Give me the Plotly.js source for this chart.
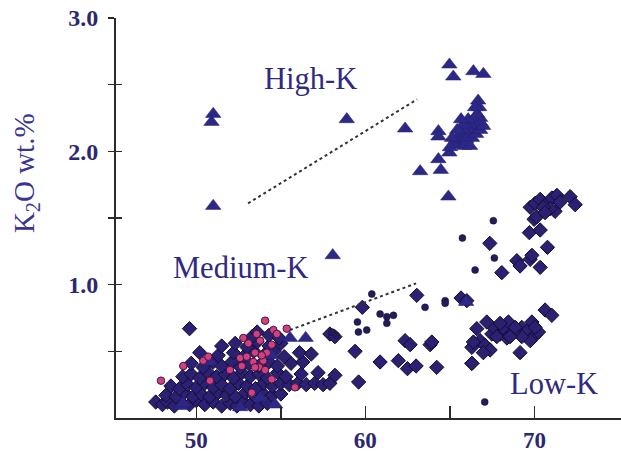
<!DOCTYPE html>
<html>
<head>
<meta charset="utf-8">
<script src="https://cdn.plot.ly/plotly-3.0.1.min.js"></script>
<style>
  html, body { margin: 0; padding: 0; background: #ffffff; }
  #chart { width: 621px; height: 455px; }
</style>
</head>
<body>
<div id="chart"></div>
<script>
// SiO2 (wt.%) vs K2O (wt.%) for the sample suites

// Diamond-symbol samples
const diamondSiO2 = [
  47.6, 48.0, 48.3, 48.7, 49.1, 49.6, 50.0, 50.5, 51.0, 51.5, 52.0, 52.4, 52.8, 53.2, 53.7, 54.2,
  48.2, 48.8, 49.3, 49.8, 50.3, 50.8, 51.3, 51.8, 52.3, 52.9, 53.4, 53.9, 54.5, 55.0,
  48.5, 49.0, 49.5, 50.0, 50.5, 51.0, 51.5, 52.0, 52.5, 53.0, 53.5, 54.0, 54.5, 55.0, 55.5, 56.0, 56.5, 57.0, 57.5, 57.9,
  49.2, 49.7, 50.2, 50.7, 51.2, 51.7, 52.2, 52.7, 53.2, 53.7, 54.2, 54.8, 55.3, 56.2, 57.2, 58.2,
  49.7, 50.4, 51.0, 51.5, 52.1, 52.6, 53.1, 53.7, 54.3, 54.8, 55.6, 56.3,
  50.2, 51.3, 52.2, 52.8, 53.4, 54.0, 54.6, 55.2, 56.1, 56.8,
  51.5, 52.3, 53.0, 53.6, 54.3, 55.0,
  53.3, 53.6, 54.3, 54.9, 57.9, 58.2,
  49.6, 59.6,
  63.04, 59.82, 59.39, 60.87, 61.95, 62.35, 62.65, 62.49, 63.0, 63.83, 63.93, 64.22, 66.3, 65.66, 66.0,
  67.36, 68.07, 68.96, 69.15, 69.75, 69.85, 70.34, 70.77, 69.7, 70.34, 69.98, 69.75, 70.04, 70.34,
  70.73, 71.03, 71.33, 71.22, 70.93, 72.11, 72.41, 70.53, 70.14, 71.52, 70.63,
  67.18, 66.59, 66.3, 66.79, 67.08, 67.48, 67.67, 67.97, 68.27, 68.46, 68.37, 67.38, 66.98,
  69.05, 69.25, 69.45, 69.64, 69.85, 70.04, 70.24, 69.75, 69.25, 70.63, 71.03, 69.15, 66.3,
  68.76, 67.77, 68.56, 67.97, 68.86, 66.39, 70.04
];
const diamondK2O = [
  0.12, 0.10, 0.12, 0.09, 0.12, 0.10, 0.13, 0.10, 0.12, 0.09, 0.11, 0.09, 0.12, 0.10, 0.09, 0.11,
  0.17, 0.16, 0.19, 0.16, 0.18, 0.16, 0.19, 0.17, 0.16, 0.19, 0.17, 0.19, 0.17, 0.18,
  0.24, 0.22, 0.25, 0.23, 0.26, 0.23, 0.25, 0.22, 0.26, 0.24, 0.22, 0.26, 0.24, 0.26, 0.25, 0.26, 0.25, 0.26, 0.25, 0.26,
  0.31, 0.33, 0.30, 0.34, 0.31, 0.33, 0.30, 0.34, 0.31, 0.33, 0.30, 0.34, 0.31, 0.33, 0.34, 0.32,
  0.41, 0.38, 0.42, 0.39, 0.42, 0.38, 0.41, 0.39, 0.42, 0.39, 0.41, 0.42,
  0.49, 0.47, 0.49, 0.46, 0.50, 0.47, 0.50, 0.46, 0.49, 0.48,
  0.54, 0.56, 0.53, 0.57, 0.54, 0.56,
  0.61, 0.645, 0.62, 0.60, 0.63, 0.61,
  0.67, 0.27,
  0.92, 0.83, 0.50, 0.42, 0.43, 0.58, 0.55, 0.37, 0.39, 0.55, 0.57, 0.38, 0.41, 0.90, 0.88,
  1.31, 1.09, 1.18, 1.14, 1.19, 1.22, 1.13, 1.28, 1.39, 1.41, 1.49, 1.58, 1.61, 1.64,
  1.61, 1.65, 1.67, 1.55, 1.57, 1.66, 1.60, 1.58, 1.51, 1.62, 1.54,
  0.72, 0.67, 0.53, 0.58, 0.545, 0.63, 0.67, 0.63, 0.66, 0.72, 0.60, 0.51, 0.49,
  0.645, 0.68, 0.63, 0.66, 0.72, 0.62, 0.645, 0.58, 0.61, 0.81, 0.77, 0.49, 0.41,
  0.645, 0.61, 0.61, 0.71, 0.68, 0.57, 0.68
];

// Triangle-symbol samples
const triangleSiO2 = [
  51.0, 50.9, 51.0, 58.9, 62.35, 58.07,
  64.97, 65.2, 66.39, 66.98,
  64.32, 64.32, 63.24, 64.32, 64.46, 64.91, 64.97,
  66.67, 66.73, 66.61, 66.79, 66.42, 66.85, 66.55, 66.25, 66.02, 66.19, 65.9, 65.72, 65.54, 65.37, 65.6,
  65.25, 65.96, 66.31, 66.55, 66.79, 66.96, 66.08, 65.78, 65.43, 65.13, 65.01, 65.84, 66.19, 65.66, 66.49,
  65.96, 55.54, 56.47, 54.66, 49.1, 54.46, 52.6, 53.77, 49.2, 50.8
];
const triangleK2O = [
  2.28, 2.22, 1.59, 2.24, 2.17, 1.22,
  2.65, 2.56, 2.60, 2.58,
  2.15, 2.11, 1.85, 1.94, 1.86, 1.66, 1.99,
  2.38, 2.33, 2.28, 2.25, 2.24, 2.21, 2.19, 2.19, 2.18, 2.15, 2.14, 2.12, 2.10, 2.09, 2.07,
  2.05, 2.09, 2.10, 2.13, 2.16, 2.19, 2.24, 2.20, 2.16, 2.10, 2.03, 2.04, 2.04, 2.24, 2.33,
  0.87, 0.60, 0.60, 0.10, 0.09, 0.47, 0.08, 0.15, 0.11, 0.42
];

// Small dark-dot samples
const dotSiO2 = [67.57, 65.74, 67.63, 66.49, 60.38, 63.53, 64.72, 64.72, 59.53, 60.08, 59.59,
                 60.87, 61.66, 61.27, 61.27, 67.06, 58.01, 58.27];
const dotK2O  = [1.48, 1.35, 1.20, 1.11, 0.93, 0.83, 0.88, 0.86, 0.72, 0.66, 0.645,
                 0.78, 0.77, 0.76, 0.71, 0.12, 0.645, 0.62];

// Pink-circle samples
const pinkSiO2 = [47.91, 49.23, 50.41, 50.71, 50.81, 51.99, 52.59, 52.69, 52.78, 53.08, 53.47, 53.57,
                  53.77, 54.07, 53.96, 53.73, 54.07, 54.17, 54.46, 54.56, 54.76, 54.46, 55.35, 55.84,
                  53.28, 52.98, 53.87, 53.37, 53.47];
const pinkK2O  = [0.28, 0.39, 0.43, 0.46, 0.28, 0.36, 0.45, 0.39, 0.60, 0.56, 0.49, 0.63,
                  0.58, 0.73, 0.43, 0.38, 0.36, 0.49, 0.55, 0.66, 0.63, 0.29, 0.67, 0.23,
                  0.19, 0.46, 0.47, 0.42, 0.38];

// Series boundaries (dotted)
const highMedSiO2 = [53.06, 63.06];
const highMedK2O  = [1.61, 2.39];
const medLowSiO2  = [55.54, 63.0];
const medLowK2O   = [0.66, 1.01];

// Axis ticks: labelled major ticks plus unlabelled minor ticks
const xTickVals  = [50, 60, 70];
const xMinorVals = [55, 65];
const yTickVals  = [1.0, 2.0, 3.0];
const yMinorVals = [0.5, 1.5, 2.5];
const yAllTicks  = [0.5, 1.0, 1.5, 2.0, 2.5, 3.0];

// Field labels
const fieldNames = ['High-K', 'Medium-K', 'Low-K'];
const fieldSiO2  = [56.73, 52.64, 71.17];
const fieldK2O   = [2.54, 1.124, 0.252];

const ink = '#2f2a80';
const serif = 'Liberation Serif, Times New Roman, serif';
const axisInk = '#2a2a2a';

const traces = [
  {
    x: diamondSiO2, y: diamondK2O, type: 'scatter', mode: 'markers',
    marker: { symbol: 'diamond', size: 11, color: '#2b2072', line: { color: '#120c30', width: 1 } },
    hoverinfo: 'x+y'
  },
  {
    x: triangleSiO2, y: triangleK2O, type: 'scatter', mode: 'markers',
    marker: { symbol: 'triangle-up', size: 13.5, color: '#2d2886', line: { color: '#231f70', width: 0.5 } },
    hoverinfo: 'x+y'
  },
  {
    x: pinkSiO2, y: pinkK2O, type: 'scatter', mode: 'markers',
    marker: { symbol: 'circle', size: 7.5, color: '#d2407f', line: { color: '#3a1744', width: 1 } },
    hoverinfo: 'x+y'
  },
  {
    x: dotSiO2, y: dotK2O, type: 'scatter', mode: 'markers',
    marker: { symbol: 'circle', size: 7, color: '#221c58', line: { color: '#15113a', width: 0.5 } },
    hoverinfo: 'x+y'
  },
  {
    x: highMedSiO2, y: highMedK2O, type: 'scatter', mode: 'lines', yaxis: 'y2',
    line: { color: '#333333', width: 2, dash: 'dot' }, hoverinfo: 'skip'
  },
  {
    x: medLowSiO2, y: medLowK2O, type: 'scatter', mode: 'lines', yaxis: 'y2',
    line: { color: '#333333', width: 2, dash: 'dot' }, hoverinfo: 'skip'
  }
];

const annotations = fieldNames.map((name, i) => ({
  x: fieldSiO2[i], y: fieldK2O[i], xref: 'x', yref: 'y',
  text: name, showarrow: false,
  font: { family: serif, size: 30.5, color: ink },
  xanchor: 'center', yanchor: 'middle'
}));

// Y-axis title
annotations.push({
  xref: 'paper', yref: 'paper', x: -0.178, y: 0.6125,
  text: 'K<sub>2</sub>O wt.%', showarrow: false, textangle: -90,
  font: { family: serif, size: 29, color: '#3a3592' },
  xanchor: 'center', yanchor: 'middle'
});

const layout = {
  width: 621, height: 455,
  margin: { l: 116, r: 0, t: 18, b: 37 },
  paper_bgcolor: '#ffffff', plot_bgcolor: '#ffffff',
  showlegend: false,
  xaxis: {
    range: [45.25, 75.12], showgrid: false, zeroline: false,
    showline: true, linecolor: axisInk, linewidth: 2,
    ticks: 'inside', ticklen: 12, tickwidth: 1.5, tickcolor: axisInk,
    tickmode: 'array', tickvals: xTickVals, ticktext: xTickVals.map(String),
    minor: { tickmode: 'array', tickvals: xMinorVals, ticks: 'inside', ticklen: 12, tickwidth: 1.5, tickcolor: axisInk, showgrid: false },
    ticklabelstandoff: 0,
    tickfont: { family: serif, size: 23, color: '#2c2772', weight: 'bold' }
  },
  yaxis: {
    range: [0, 3.0], showgrid: false, zeroline: false,
    showline: true, linecolor: axisInk, linewidth: 2,
    ticks: 'outside', ticklen: 6, tickwidth: 1.5, tickcolor: axisInk,
    tickmode: 'array', tickvals: yTickVals, ticktext: yTickVals.map(v => v.toFixed(1)),
    minor: { tickmode: 'array', tickvals: yMinorVals, ticks: 'outside', ticklen: 6, tickwidth: 1.5, tickcolor: axisInk, showgrid: false },
    ticklabelstandoff: 5,
    tickfont: { family: serif, size: 24, color: '#2c2772', weight: 'bold' }
  },
  yaxis2: {
    range: [0, 3.0], overlaying: 'y', side: 'left', anchor: 'x',
    showgrid: false, zeroline: false, showline: false,
    ticks: 'inside', ticklen: 6, tickwidth: 1.5, tickcolor: axisInk,
    tickmode: 'array', tickvals: yAllTicks, showticklabels: false
  },
  annotations: annotations
};

Plotly.newPlot('chart', traces, layout, { displayModeBar: false, staticPlot: true });
</script>
</body>
</html>
